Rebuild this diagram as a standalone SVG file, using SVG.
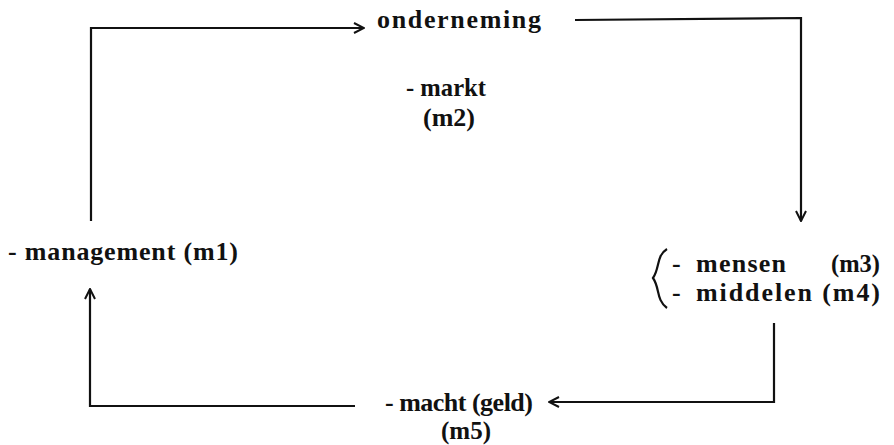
<svg xmlns="http://www.w3.org/2000/svg" width="894" height="445" viewBox="0 0 894 445">
<style>
.t{font-family:"Liberation Serif","Times New Roman",serif;font-weight:bold;font-size:26px;fill:#111;}
.c{fill:none;stroke:#111;stroke-width:2.2;stroke-linejoin:miter;}
</style>
<defs>
<marker id="ah" viewBox="0 0 12 12" refX="11" refY="6" markerWidth="12" markerHeight="12" markerUnits="userSpaceOnUse" orient="auto">
<path d="M1,1 L11,6 L1,11" fill="none" stroke="#111" stroke-width="2"/>
</marker>
</defs>
<rect width="894" height="445" fill="#fff"/>
<g id="connectors">
<path class="c" d="M91,221 V28 H364" marker-end="url(#ah)"/>
<path class="c" d="M575,20 L801,18 V221" marker-end="url(#ah)"/>
<path class="c" d="M774,323 V402 H549" marker-end="url(#ah)"/>
<path class="c" d="M355,406 H90 V289" marker-end="url(#ah)"/>
</g>
<g id="onderneming"><text class="t" x="377" y="28" textLength="164" lengthAdjust="spacing">onderneming</text></g>
<g id="markt">
<text class="t" x="406" y="96" style="font-size:25px" textLength="80" lengthAdjust="spacingAndGlyphs">- markt</text>
<text class="t" x="423" y="126" style="font-size:25px" textLength="52" lengthAdjust="spacingAndGlyphs">(m2)</text>
</g>
<g id="management"><text class="t" x="8" y="260" textLength="230" lengthAdjust="spacing">- management  (m1)</text></g>
<g id="mensen-middelen">
<path d="M667,249 C656,256 660,268 653,278 C660,288 656,300 667,308" fill="none" stroke="#111" stroke-width="2.2"/>
<text class="t" x="672" y="272">-</text>
<text class="t" x="696" y="272" textLength="90" lengthAdjust="spacing">mensen</text>
<text class="t" x="831" y="272" textLength="49" lengthAdjust="spacingAndGlyphs">(m3)</text>
<text class="t" x="672" y="301">-</text>
<text class="t" x="696" y="301" textLength="184" lengthAdjust="spacing">middelen (m4)</text>
</g>
<g id="macht">
<text class="t" x="385" y="411" textLength="148" lengthAdjust="spacing">- macht  (geld)</text>
<text class="t" x="441" y="439" textLength="50" lengthAdjust="spacingAndGlyphs">(m5)</text>
</g>
</svg>
